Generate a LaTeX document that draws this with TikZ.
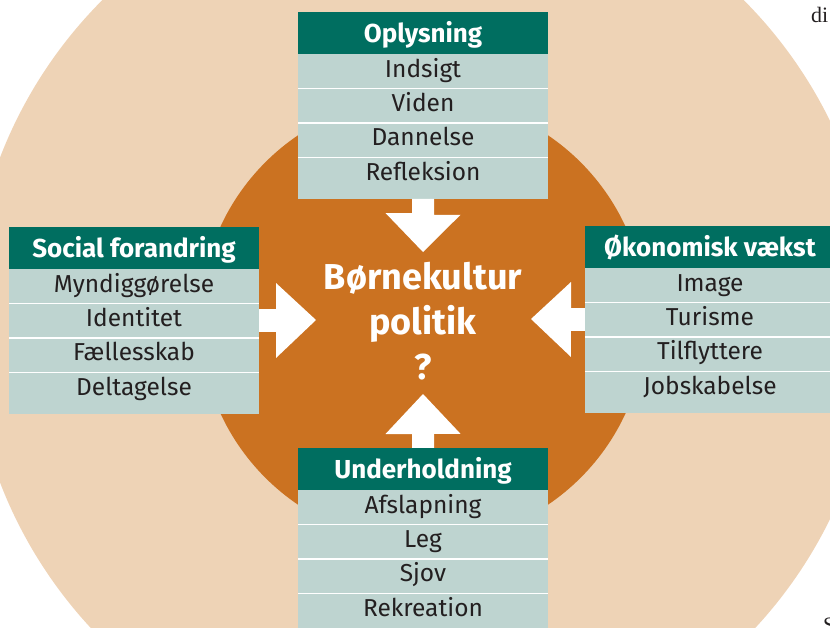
\documentclass[tikz,border=0pt]{standalone}
\usepackage{fontspec}
\setmainfont{Fira Sans}
\newfontfamily\pagefont{Liberation Serif}
\usetikzlibrary{positioning}

\definecolor{ringbeige}{HTML}{EED3B6}
\definecolor{discorange}{HTML}{CB7221}
\definecolor{headteal}{HTML}{006E60}
\definecolor{rowgrey}{HTML}{BED4D0}
\definecolor{inkdark}{HTML}{231F20}

\begin{document}
\begin{tikzpicture}[x=1pt, y=-1pt,
    boxhead/.style={fill=headteal, text=white, inner sep=0pt,
        minimum width=250pt, minimum height=42pt,
        text height=18pt, text depth=0pt,
        font=\bfseries\fontsize{26}{26}\selectfont},
    boxrow/.style={fill=rowgrey, text=inkdark, inner sep=0pt,
        minimum width=250pt, minimum height=34pt,
        text height=17pt, text depth=5.6pt,
        font=\fontsize{24.5}{24.5}\selectfont},
    rowline/.style={white, line width=1.2pt},
    arrowwhite/.style={fill=white},
    centretext/.style={text=white, align=center, inner sep=0pt,
        font=\bfseries\fontsize{36}{45}\selectfont},
    pagetext/.style={text=inkdark, inner sep=0pt,
        font=\pagefont\fontsize{22}{22}\selectfont}]

    \useasboundingbox (0,0) rectangle (830,627);
    \clip (0,0) rectangle (830,627);

    % Centre of the two discs
    \def\cx{423}
    \def\cy{320}

    % Discs
    \fill[ringbeige] (\cx,\cy) circle (453pt);
    \fill[discorange] (\cx,\cy) circle (223pt);

    % Oplysning (top)
    \node[boxhead] (opl-head) at (\cx,33) {Oplysning};
    \node[boxrow, below=0pt of opl-head] (opl-1) {Indsigt};
    \node[boxrow, below=0pt of opl-1] (opl-2) {Viden};
    \node[boxrow, below=0pt of opl-2] (opl-3) {Dannelse};
    \node[boxrow, below=0pt of opl-3] (opl-4) {Refleksion};
    \coordinate (opl-foot) at ([yshift=-7pt]opl-4.south);
    \fill[rowgrey] (opl-4.south west) rectangle ([yshift=-7pt]opl-4.south east);
    \draw[rowline] (opl-1.south west) -- (opl-1.south east);
    \draw[rowline] (opl-2.south west) -- (opl-2.south east);
    \draw[rowline] (opl-3.south west) -- (opl-3.south east);

    % Social forandring (left)
    \node[boxhead] (soc-head) at (134,248) {Social forandring};
    \node[boxrow, below=0pt of soc-head] (soc-1) {Myndiggørelse};
    \node[boxrow, below=0pt of soc-1] (soc-2) {Identitet};
    \node[boxrow, below=0pt of soc-2] (soc-3) {Fællesskab};
    \node[boxrow, below=0pt of soc-3] (soc-4) {Deltagelse};
    \fill[rowgrey] (soc-4.south west) rectangle ([yshift=-7pt]soc-4.south east);
    \draw[rowline] (soc-1.south west) -- (soc-1.south east);
    \draw[rowline] (soc-2.south west) -- (soc-2.south east);
    \draw[rowline] (soc-3.south west) -- (soc-3.south east);

    % Økonomisk vækst (right)
    \node[boxhead] (oek-head) at (710,247) {Økonomisk vækst};
    \node[boxrow, below=0pt of oek-head] (oek-1) {Image};
    \node[boxrow, below=0pt of oek-1] (oek-2) {Turisme};
    \node[boxrow, below=0pt of oek-2] (oek-3) {Tilflyttere};
    \node[boxrow, below=0pt of oek-3] (oek-4) {Jobskabelse};
    \fill[rowgrey] (oek-4.south west) rectangle ([yshift=-7pt]oek-4.south east);
    \draw[rowline] (oek-1.south west) -- (oek-1.south east);
    \draw[rowline] (oek-2.south west) -- (oek-2.south east);
    \draw[rowline] (oek-3.south west) -- (oek-3.south east);

    % Underholdning (bottom)
    \node[boxhead] (und-head) at (\cx,469) {Underholdning};
    \node[boxrow, below=0pt of und-head] (und-1) {Afslapning};
    \node[boxrow, below=0pt of und-1] (und-2) {Leg};
    \node[boxrow, below=0pt of und-2] (und-3) {Sjov};
    \node[boxrow, below=0pt of und-3] (und-4) {Rekreation};
    \fill[rowgrey] (und-4.south west) rectangle ([yshift=-7pt]und-4.south east);
    \draw[rowline] (und-1.south west) -- (und-1.south east);
    \draw[rowline] (und-2.south west) -- (und-2.south east);
    \draw[rowline] (und-3.south west) -- (und-3.south east);

    % Centre text
    \node[centretext] (bkp) at (\cx,321) {Børnekultur\\politik\\?};

    % Arrow tips
    \coordinate (tip-opl) at (\cx,252);
    \coordinate (tip-und) at (\cx,394);
    \coordinate (tip-soc) at (316,320);
    \coordinate (tip-oek) at (531,319);

    % Block arrows into the centre
    \fill[arrowwhite] (tip-opl) -- ++(-37.5,-39) -- ++(26.5,0) |- (opl-foot)
        -| ++(11,16) -- ++(26.5,0) -- cycle;
    \fill[arrowwhite] (tip-und) -- ++(-37.5,40) -- ++(26.5,0) |- (und-head.north)
        -| ++(11,-14) -- ++(26.5,0) -- cycle;
    \fill[arrowwhite] (tip-soc) -- ++(-40,-37) -- ++(0,26) -| (soc-2.east)
        |- ++(17,11) -- ++(0,26) -- cycle;
    \fill[arrowwhite] (tip-oek) -- ++(40,-37) -- ++(0,26) -| (oek-2.west)
        |- ++(-14,11) -- ++(0,26) -- cycle;

    % Bits of the page text at the edge
    \node[pagetext, anchor=base west] (page-top) at (811,22) {di};
    \node[pagetext, anchor=base west] (page-bot) at (823,632) {S};
\end{tikzpicture}
\end{document}
